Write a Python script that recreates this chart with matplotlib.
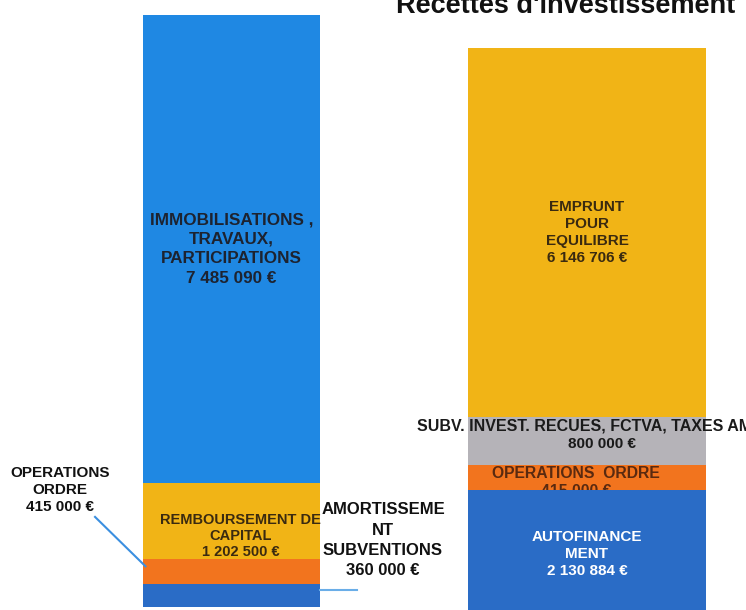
import matplotlib.pyplot as plt

plt.rcParams['font.family'] = ['Liberation Sans', 'DejaVu Sans']

# dépenses d'investissement (bas -> haut)
dep_labels = ["AMORTISSEME\nNT\nSUBVENTIONS", "OPERATIONS\nORDRE",
              "REMBOURSEMENT DE\nCAPITAL", "IMMOBILISATIONS ,\nTRAVAUX,\nPARTICIPATIONS"]
dep_values = [360000, 415000, 1202500, 7485090]
dep_colors = ["#2a6cc6", "#f2741e", "#f1b416", "#1f88e3"]

# recettes d'investissement (bas -> haut)
rec_labels = ["AUTOFINANCE\nMENT", "OPERATIONS  ORDRE",
              "SUBV. INVEST. RECUES, FCTVA, TAXES AMENAGEMENT", "EMPRUNT\nPOUR\nEQUILIBRE"]
rec_values = [2130884, 415000, 800000, 6146706]
rec_colors = ["#2a6cc6", "#f2741e", "#b5b3b8", "#f1b416"]

title_right = "Recettes d'investissement"


def euro(v):
    return f"{v:,}".replace(",", " ") + " €"


W, H = 746, 610
fig = plt.figure(figsize=(W / 100, H / 100), dpi=100)

# ---- barre de gauche
ax1 = fig.add_axes([143 / W, 3 / H, 177 / W, 592 / H])
bases = [sum(dep_values[:i]) for i in range(len(dep_values))]
for i, (v, c) in enumerate(zip(dep_values, dep_colors)):
    ax1.bar(0, v, bottom=bases[i], width=1, color=c, edgecolor='none')
ax1.set_xlim(-0.5, 0.5)
ax1.set_ylim(0, sum(dep_values))
ax1.axis('off')

# immobilisations
ax1.text(0, bases[3] + dep_values[3] / 2, dep_labels[3] + "\n" + euro(dep_values[3]),
         ha='center', va='center', fontsize=12.3, fontweight='bold', color='#1d2330',
         linespacing=1.38)
# remboursement
ax1.text(0.05, bases[2] + dep_values[2] * 0.3, dep_labels[2] + "\n" + euro(dep_values[2]),
         ha='center', va='center', fontsize=10.5, fontweight='bold', color='#3a2a10',
         linespacing=1.15, clip_on=False)
# amortissement
ax1.text(0.856, 1070000, dep_labels[0] + "\n" + euro(dep_values[0]),
         ha='center', va='center', fontsize=12, fontweight='bold', color='#111111',
         linespacing=1.42, clip_on=False)
ax1.plot([0.5, 0.71], [bases[0] + dep_values[0] * 0.75] * 2, color='#6aaee8', lw=1.5,
         clip_on=False)
# operations ordre
ax1.text(-0.97, 1870000, dep_labels[1] + "\n" + euro(dep_values[1]),
         ha='center', va='center', fontsize=11, fontweight='bold', color='#111111',
         linespacing=1.28, clip_on=False)
ax1.plot([-0.771, -0.486], [1440000, bases[1] + dep_values[1] * 0.7], color='#3b8fe0',
         lw=1.5, clip_on=False)

# ---- barre de droite
ax2 = fig.add_axes([468 / W, -8 / H, 238 / W, 570 / H])
rbases = [sum(rec_values[:i]) for i in range(len(rec_values))]
zorders = [1, 0.2, 1, 1]
for i, (v, c) in enumerate(zip(rec_values, rec_colors)):
    ax2.bar(0, v, bottom=rbases[i], width=1, color=c, edgecolor='none', zorder=zorders[i])
ax2.set_xlim(-0.5, 0.5)
ax2.set_ylim(0, sum(rec_values))
ax2.axis('off')

ax2.text(0, rbases[3] + rec_values[3] / 2, rec_labels[3] + "\n" + euro(rec_values[3]),
         ha='center', va='center', fontsize=11, fontweight='bold', color='#3a2a10',
         linespacing=1.3)
# subventions : ligne 1 depuis la gauche, montant centré
ax2.text(-0.714, rbases[2] + rec_values[2] * 0.82, rec_labels[2],
         ha='left', va='center', fontsize=11.5, fontweight='bold', color='#1a1a1a',
         clip_on=False)
ax2.text(0.063, rbases[2] + rec_values[2] * 0.45, euro(rec_values[2]),
         ha='center', va='center', fontsize=11, fontweight='bold', color='#1a1a1a',
         clip_on=False)
ax2.text(-0.046, rbases[1] + rec_values[1] * 0.3, rec_labels[1] + "\n" + euro(rec_values[1]),
         ha='center', va='center', fontsize=11.3, fontweight='bold', color='#5a2a10',
         linespacing=1.2, zorder=0.5)
ax2.text(0, rbases[0] + rec_values[0] / 2, rec_labels[0] + "\n" + euro(rec_values[0]),
         ha='center', va='center', fontsize=11, fontweight='bold', color='white',
         linespacing=1.3)

fig.text(566 / W, 1 - 13 / H, title_right, ha='center', va='baseline',
         fontsize=19.5, fontweight='bold', color='#111111')

fig.savefig('out.png', dpi=100)
